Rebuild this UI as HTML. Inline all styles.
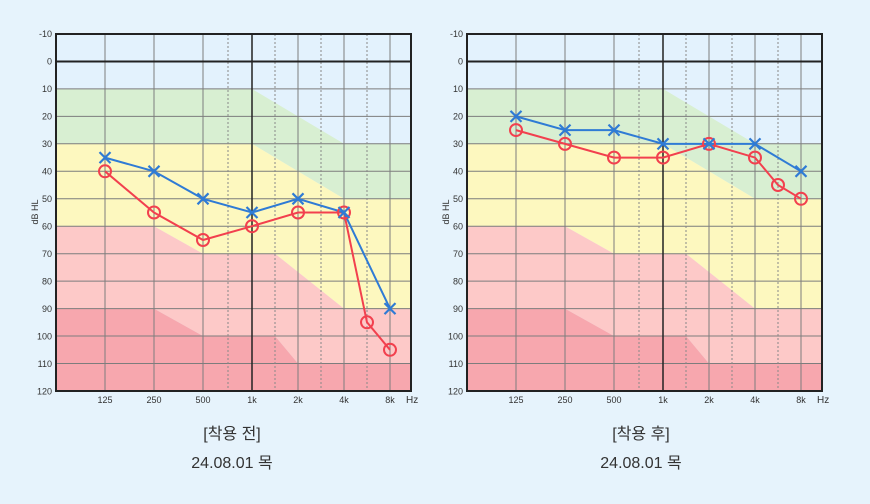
<!DOCTYPE html>
<html><head><meta charset="utf-8"><style>
html,body{margin:0;padding:0;background:#e6f3fc;}
body{width:870px;height:499px;overflow:hidden;}
text{font-family:"Liberation Sans","Noto Sans CJK KR",sans-serif;}
</style></head><body>
<svg width="870" height="499" viewBox="0 0 870 499" xmlns="http://www.w3.org/2000/svg">
<defs>
<g id="bg">
<rect x="0" y="0" width="355" height="357" fill="#e3f2fd"/>
<polygon fill="#d8efd2" points="0,54.9 196,54.9 288,109.8 355,109.8 355,164.8 288,164.8 196,109.8 0,109.8"/>
<polygon fill="#fdf8bf" points="0,109.8 196,109.8 288,164.8 355,164.8 355,274.6 288,274.6 219,219.7 147,219.7 98,192.2 0,192.2"/>
<polygon fill="#fdc9c8" points="0,192.2 98,192.2 147,219.7 219,219.7 288,274.6 355,274.6 355,329.5 242,329.5 219,302 147,302 98,274.6 0,274.6"/>
<polygon fill="#f7a7ae" points="0,274.6 98,274.6 147,302 219,302 242,329.5 355,329.5 355,357 0,357"/>
<g stroke="#7d7d7d" stroke-width="1">
<line x1="0" x2="355" y1="54.9" y2="54.9"/><line x1="0" x2="355" y1="82.4" y2="82.4"/>
<line x1="0" x2="355" y1="109.8" y2="109.8"/><line x1="0" x2="355" y1="137.3" y2="137.3"/>
<line x1="0" x2="355" y1="164.8" y2="164.8"/><line x1="0" x2="355" y1="192.2" y2="192.2"/>
<line x1="0" x2="355" y1="219.7" y2="219.7"/><line x1="0" x2="355" y1="247.1" y2="247.1"/>
<line x1="0" x2="355" y1="274.6" y2="274.6"/><line x1="0" x2="355" y1="302" y2="302"/>
<line x1="0" x2="355" y1="329.5" y2="329.5"/>
<line x1="49" x2="49" y1="0" y2="357"/><line x1="98" x2="98" y1="0" y2="357"/>
<line x1="147" x2="147" y1="0" y2="357"/><line x1="242" x2="242" y1="0" y2="357"/>
<line x1="288" x2="288" y1="0" y2="357"/><line x1="334" x2="334" y1="0" y2="357"/>
</g>
<g stroke="#888" stroke-width="1" stroke-dasharray="2,2">
<line x1="172" x2="172" y1="0" y2="357"/><line x1="219" x2="219" y1="0" y2="357"/>
<line x1="265" x2="265" y1="0" y2="357"/><line x1="311" x2="311" y1="0" y2="357"/>
</g>
<line x1="196" x2="196" y1="0" y2="357" stroke="#222" stroke-width="1.5"/>
<line x1="0" x2="355" y1="27.5" y2="27.5" stroke="#222" stroke-width="2"/>
<rect x="0" y="0" width="355" height="357" fill="none" stroke="#222" stroke-width="2"/>
</g>
<g id="xmark"><path d="M-5.5,-5.5 L5.5,5.5 M-5.5,5.5 L5.5,-5.5" stroke="#2f7bd5" stroke-width="2.2" fill="none"/></g>
<g id="omark"><circle r="6" fill="none" stroke="#f2404e" stroke-width="2"/></g>
</defs>

<!-- LEFT CHART -->
<use href="#bg" x="56" y="34"/>
<g font-size="9" fill="#333" text-anchor="end">
<text x="52" y="37">-10</text><text x="52" y="64.5">0</text><text x="52" y="92">10</text><text x="52" y="119.5">20</text><text x="52" y="147">30</text><text x="52" y="174.5">40</text><text x="52" y="202">50</text><text x="52" y="229.5">60</text><text x="52" y="257">70</text><text x="52" y="284.5">80</text><text x="52" y="312">90</text><text x="52" y="339.5">100</text><text x="52" y="367">110</text><text x="52" y="394.5">120</text>
</g>
<text x="38" y="212" font-size="9" fill="#333" text-anchor="middle" transform="rotate(-90 38 212)">dB HL</text>
<g font-size="9" fill="#333" text-anchor="middle">
<text x="105" y="403">125</text><text x="154" y="403">250</text><text x="203" y="403">500</text><text x="252" y="403">1k</text><text x="298" y="403">2k</text><text x="344" y="403">4k</text><text x="390" y="403">8k</text>
</g>
<text x="406" y="403" font-size="10" fill="#333">Hz</text>
<polyline fill="none" stroke="#f2404e" stroke-width="2" points="105,171.3 154,212.5 203,240 252,226.2 298,212.5 344,212.5 367,322.3 390,349.8"/>
<polyline fill="none" stroke="#2f7bd5" stroke-width="2" points="105,157.6 154,171.3 203,198.8 252,212.5 298,198.8 344,212.5 390,308.6"/>
<use href="#omark" x="105" y="171.3"/><use href="#omark" x="154" y="212.5"/><use href="#omark" x="203" y="240"/><use href="#omark" x="252" y="226.2"/><use href="#omark" x="298" y="212.5"/><use href="#omark" x="344" y="212.5"/><use href="#omark" x="367" y="322.3"/><use href="#omark" x="390" y="349.8"/>
<use href="#xmark" x="105" y="157.6"/><use href="#xmark" x="154" y="171.3"/><use href="#xmark" x="203" y="198.8"/><use href="#xmark" x="252" y="212.5"/><use href="#xmark" x="298" y="198.8"/><use href="#xmark" x="344" y="212.5"/><use href="#xmark" x="390" y="308.6"/>

<!-- RIGHT CHART -->
<use href="#bg" x="467" y="34"/>
<g font-size="9" fill="#333" text-anchor="end">
<text x="463" y="37">-10</text><text x="463" y="64.5">0</text><text x="463" y="92">10</text><text x="463" y="119.5">20</text><text x="463" y="147">30</text><text x="463" y="174.5">40</text><text x="463" y="202">50</text><text x="463" y="229.5">60</text><text x="463" y="257">70</text><text x="463" y="284.5">80</text><text x="463" y="312">90</text><text x="463" y="339.5">100</text><text x="463" y="367">110</text><text x="463" y="394.5">120</text>
</g>
<text x="449" y="212" font-size="9" fill="#333" text-anchor="middle" transform="rotate(-90 449 212)">dB HL</text>
<g font-size="9" fill="#333" text-anchor="middle">
<text x="516" y="403">125</text><text x="565" y="403">250</text><text x="614" y="403">500</text><text x="663" y="403">1k</text><text x="709" y="403">2k</text><text x="755" y="403">4k</text><text x="801" y="403">8k</text>
</g>
<text x="817" y="403" font-size="10" fill="#333">Hz</text>
<polyline fill="none" stroke="#f2404e" stroke-width="2" points="516,130.1 565,143.9 614,157.6 663,157.6 709,143.9 755,157.6 778,185 801,198.8"/>
<polyline fill="none" stroke="#2f7bd5" stroke-width="2" points="516,116.4 565,130.1 614,130.1 663,143.9 709,143.9 755,143.9 801,171.3"/>
<use href="#omark" x="516" y="130.1"/><use href="#omark" x="565" y="143.9"/><use href="#omark" x="614" y="157.6"/><use href="#omark" x="663" y="157.6"/><use href="#omark" x="709" y="143.9"/><use href="#omark" x="755" y="157.6"/><use href="#omark" x="778" y="185"/><use href="#omark" x="801" y="198.8"/>
<use href="#xmark" x="516" y="116.4"/><use href="#xmark" x="565" y="130.1"/><use href="#xmark" x="614" y="130.1"/><use href="#xmark" x="663" y="143.9"/><use href="#xmark" x="709" y="143.9"/><use href="#xmark" x="755" y="143.9"/><use href="#xmark" x="801" y="171.3"/>

<g font-size="16" fill="#333" text-anchor="middle">
<text x="232" y="439">[착용 전]</text>
<text x="232" y="468">24.08.01 목</text>
<text x="641" y="439">[착용 후]</text>
<text x="641" y="468">24.08.01 목</text>
</g>
</svg>
</body></html>
